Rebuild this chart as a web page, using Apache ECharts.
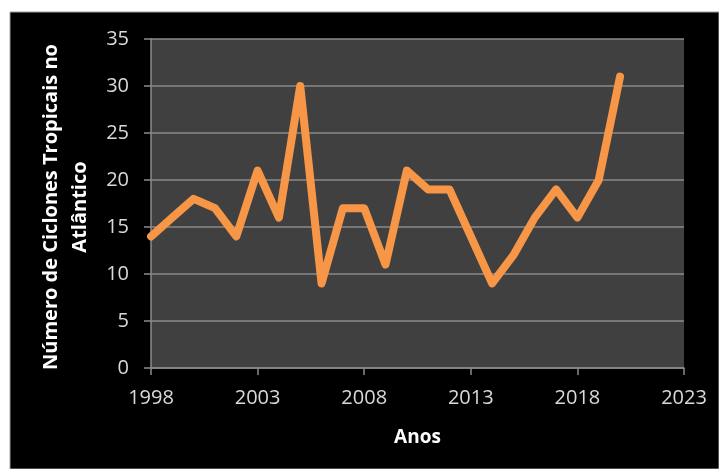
<!DOCTYPE html>
<html>
<head>
<meta charset="utf-8">
<script src="https://cdn.jsdelivr.net/npm/echarts@6/dist/echarts.min.js"></script>
<style>
  html, body { margin: 0; padding: 0; background: #ffffff; }
  #chart { width: 719px; height: 469px; }
</style>
</head>
<body>
<div id="chart"></div>
<script>
const BASE_YEAR = 1998;
const years = [1998,1999,2000,2001,2002,2003,2004,2005,2006,2007,2008,2009,2010,2011,2012,2013,2014,2015,2016,2017,2018,2019,2020];
const storms = [14,16,18,17,14,21,16,30,9,17,17,11,21,19,19,14,9,12,16,19,16,20,31];
const xTickStep = 5;   // years between x tick labels
const yMax = 35;

const seriesData = years.map((y, i) => [y - BASE_YEAR, storms[i]]);

const chart = echarts.init(document.getElementById('chart'));
const fontFam = '"Open Sans", "Liberation Sans", sans-serif';
chart.setOption({
  backgroundColor: '#ffffff',
  animation: false,
  graphic: [{
    type: 'rect', z: -10, silent: true,
    shape: { x: 10, y: 12, width: 709, height: 457 },
    style: { fill: '#000000', stroke: '#a0a0a0', lineWidth: 1 }
  }],
  grid: {
    left: 151, right: 35, top: 39, bottom: 101,
    show: true, backgroundColor: '#404040', borderWidth: 0
  },
  xAxis: {
    type: 'value',
    min: 0, max: 25, interval: xTickStep,
    name: 'Anos', nameLocation: 'middle', nameGap: 60,
    nameTextStyle: { color: '#ffffff', fontSize: 19, fontWeight: 'bold', fontFamily: fontFam },
    axisLine: { show: true, lineStyle: { color: '#8c8c8c', width: 1.5 } },
    axisTick: { show: true, length: 7, lineStyle: { color: '#8c8c8c', width: 1.5 } },
    axisLabel: { color: '#d9d9d9', fontSize: 20, fontFamily: fontFam, margin: 20,
      formatter: v => String(v + BASE_YEAR) },
    splitLine: { show: false }
  },
  yAxis: {
    type: 'value',
    min: 0, max: yMax, interval: 5,
    name: 'Número de Ciclones Tropicais no\nAtlântico',
    nameLocation: 'middle', nameGap: 45, nameRotate: 90,
    nameTextStyle: { color: '#ffffff', fontSize: 20, fontWeight: 'bold', fontFamily: fontFam, lineHeight: 29, padding: [0, 7, 0, 0] },
    axisLine: { show: true, lineStyle: { color: '#8c8c8c', width: 1.5 } },
    axisTick: { show: true, length: 7, lineStyle: { color: '#8c8c8c', width: 1.5 } },
    axisLabel: { color: '#d9d9d9', fontSize: 20, fontFamily: fontFam, margin: 22 },
    splitLine: { show: true, lineStyle: { color: '#8a8a8a', width: 1.5 } }
  },
  series: [{
    type: 'line',
    data: seriesData,
    symbol: 'none',
    smooth: false,
    lineStyle: { color: '#F79646', width: 8, cap: 'round', join: 'round' }
  }]
});
</script>
</body>
</html>
